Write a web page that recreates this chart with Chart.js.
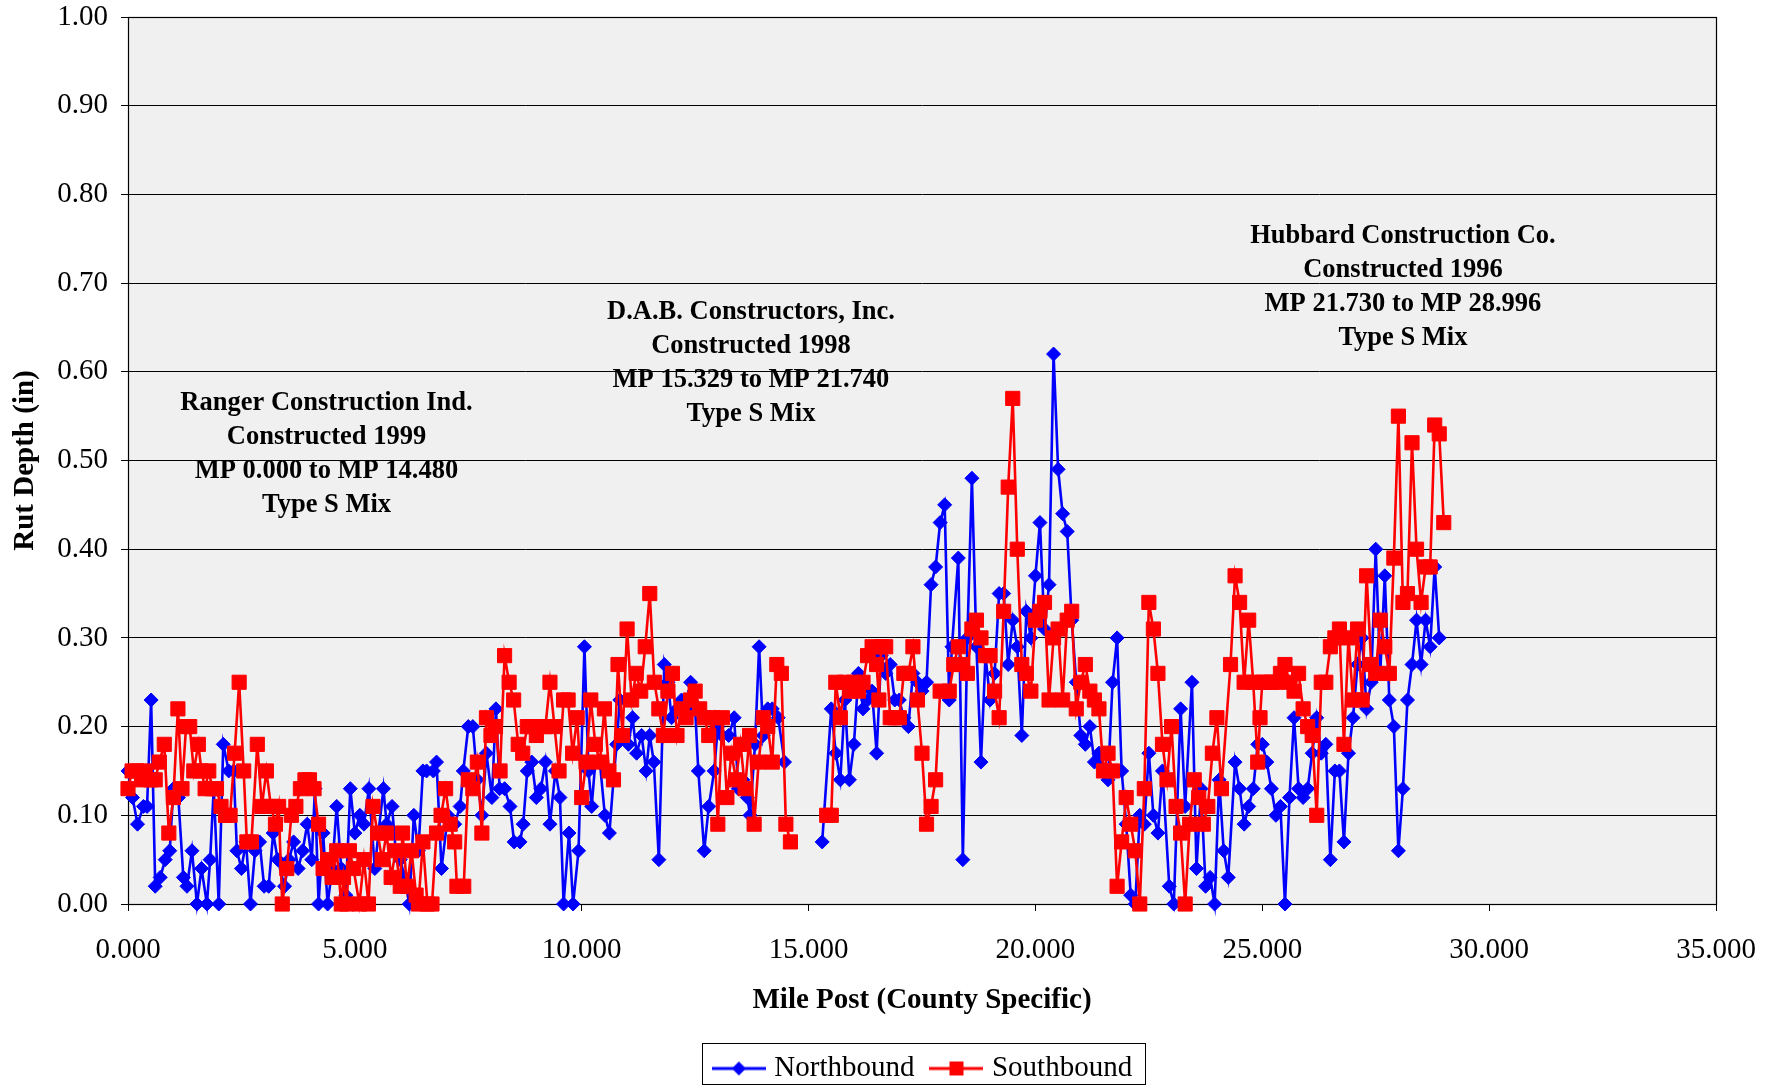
<!DOCTYPE html>
<html><head><meta charset="utf-8">
<script src="https://cdn.jsdelivr.net/npm/chart.js@4/dist/chart.umd.min.js"></script>
<style>html,body{margin:0;padding:0;background:#fff;}</style>
</head><body>
<canvas id="c" width="1778" height="1086"></canvas>
<script>
// ---------- DATA ----------
const nbMiles = [0.00,0.10,0.21,0.34,0.42,0.51,0.60,0.71,0.82,0.92,1.00,1.11,1.22,1.30,1.41,1.52,1.62,1.74,1.81,1.89,2.00,2.10,2.22,2.33,2.40,2.50,2.60,2.70,2.80,2.90,3.00,3.10,3.20,3.30,3.45,3.55,3.65,3.75,3.85,3.95,4.05,4.12,4.20,4.30,4.40,4.50,4.60,4.70,4.80,4.90,5.00,5.11,5.20,5.31,5.44,5.52,5.63,5.70,5.82,5.90,6.00,6.10,6.20,6.30,6.40,6.50,6.58,6.73,6.80,6.91,7.05,7.20,7.32,7.39,7.50,7.60,7.70,7.80,7.90,8.02,8.11,8.19,8.30,8.42,8.51,8.64,8.71,8.80,8.90,9.00,9.10,9.20,9.30,9.42,9.52,9.60,9.72,9.81,9.93,10.06,10.15,10.22,10.30,10.40,10.51,10.61,10.70,10.77,10.84,10.93,11.03,11.12,11.21,11.32,11.42,11.50,11.59,11.70,11.82,11.90,11.98,12.10,12.20,12.30,12.40,12.48,12.57,12.70,12.80,12.92,13.00,13.09,13.24,13.36,13.45,13.55,13.65,13.71,13.82,13.91,14.00,14.10,14.20,14.33,14.47,
14.90,
15.30,15.50,15.60,15.70,15.80,15.90,16.00,16.10,16.20,16.30,16.40,16.50,16.60,16.70,16.80,16.90,17.00,17.10,17.20,17.30,17.40,17.50,17.60,17.70,17.80,17.90,18.00,18.10,18.16,18.30,18.40,18.50,18.60,18.70,18.80,18.90,19.00,19.10,19.20,19.30,19.40,19.50,19.60,19.70,19.80,19.90,20.00,20.10,20.20,20.30,20.40,20.50,20.60,20.70,20.80,20.90,21.00,21.10,21.20,21.30,21.40,21.50,21.60,21.70,21.80,21.90,22.00,22.10,22.20,22.30,22.40,22.50,22.60,22.70,22.80,22.95,23.05,23.20,23.30,23.45,23.55,23.65,23.75,23.85,23.95,24.05,24.15,24.25,24.40,24.50,24.60,24.70,24.80,24.90,25.00,25.10,25.20,25.30,25.40,25.50,25.60,25.70,25.80,25.90,26.00,26.10,26.20,26.30,26.40,26.50,26.60,26.70,26.80,26.90,27.00,27.10,27.20,27.30,27.40,27.50,27.60,27.70,27.80,27.90,28.00,28.10,28.20,28.30,28.40,28.50,28.60,28.70,28.80,28.90];
const nbValues = [0.15,0.12,0.09,0.11,0.11,0.23,0.02,0.03,0.05,0.06,0.13,0.12,0.03,0.02,0.06,0.00,0.04,0.00,0.05,0.13,0.00,0.18,0.15,0.15,0.06,0.04,0.07,0.00,0.06,0.07,0.02,0.02,0.08,0.05,0.02,0.05,0.07,0.04,0.06,0.09,0.05,0.13,0.00,0.08,0.00,0.04,0.11,0.04,0.01,0.13,0.08,0.10,0.09,0.13,0.04,0.08,0.13,0.09,0.11,0.06,0.05,0.03,0.00,0.10,0.06,0.15,0.15,0.15,0.16,0.04,0.10,0.09,0.11,0.15,0.20,0.20,0.14,0.10,0.17,0.12,0.22,0.13,0.13,0.11,0.07,0.07,0.09,0.15,0.16,0.12,0.13,0.16,0.09,0.15,0.12,0.00,0.08,0.00,0.06,0.29,0.15,0.11,0.16,0.16,0.10,0.08,0.14,0.18,0.23,0.19,0.18,0.21,0.17,0.19,0.15,0.19,0.16,0.05,0.27,0.25,0.21,0.22,0.23,0.22,0.25,0.24,0.15,0.06,0.11,0.15,0.20,0.19,0.19,0.21,0.13,0.14,0.12,0.10,0.18,0.29,0.19,0.22,0.22,0.21,0.16,
null,
0.07,0.22,0.17,0.14,0.23,0.14,0.18,0.26,0.22,0.23,0.24,0.17,0.28,0.26,0.27,0.23,0.23,0.21,0.20,0.26,0.25,0.24,0.25,0.36,0.38,0.43,0.45,0.23,0.29,0.39,0.05,0.30,0.48,0.29,0.16,0.28,0.23,0.26,0.35,0.35,0.27,0.32,0.29,0.19,0.33,0.30,0.37,0.43,0.31,0.36,0.62,0.49,0.44,0.42,0.32,0.25,0.19,0.18,0.20,0.16,0.17,0.15,0.14,0.25,0.30,0.15,0.09,0.01,0.00,0.10,0.09,0.17,0.10,0.08,0.15,0.02,0.00,0.22,0.11,0.25,0.04,0.13,0.02,0.03,0.00,0.14,0.06,0.03,0.16,0.13,0.09,0.11,0.13,0.18,0.18,0.16,0.13,0.10,0.11,0.00,0.12,0.21,0.13,0.12,0.13,0.17,0.21,0.17,0.18,0.05,0.15,0.15,0.07,0.17,0.21,0.27,0.30,0.22,0.25,0.40,0.26,0.37,0.23,0.20,0.06,0.13,0.23,0.27,0.32,0.27,0.32,0.29,0.38,0.30];

const sbMiles = [0.00,0.09,0.20,0.30,0.38,0.50,0.60,0.69,0.80,0.90,1.00,1.10,1.19,1.28,1.36,1.45,1.55,1.62,1.70,1.78,1.86,1.95,2.05,2.15,2.25,2.35,2.45,2.55,2.62,2.72,2.85,2.95,3.05,3.15,3.25,3.32,3.40,3.50,3.60,3.70,3.80,3.90,4.00,4.10,4.20,4.30,4.40,4.50,4.60,4.70,4.75,4.82,4.88,4.97,5.10,5.20,5.30,5.40,5.50,5.60,5.70,5.80,5.90,6.00,6.05,6.15,6.25,6.35,6.40,6.50,6.60,6.70,6.80,6.90,7.00,7.10,7.20,7.25,7.40,7.50,7.60,7.70,7.80,7.90,8.00,8.10,8.20,8.30,8.40,8.50,8.60,8.70,8.80,8.90,9.00,9.10,9.20,9.30,9.40,9.50,9.60,9.70,9.80,9.90,10.00,10.10,10.20,10.30,10.40,10.50,10.60,10.70,10.80,10.90,11.00,11.10,11.20,11.30,11.40,11.50,11.60,11.70,11.80,11.90,12.00,12.10,12.20,12.30,12.40,12.50,12.60,12.70,12.80,12.90,13.00,13.10,13.20,13.30,13.40,13.50,13.60,13.70,13.80,13.90,14.00,14.10,14.20,14.30,14.40,14.50,14.60,
15.00,
15.40,15.50,15.60,15.70,15.80,15.90,16.00,16.10,16.20,16.30,16.40,16.50,16.55,16.60,16.70,16.80,16.90,17.00,17.10,17.20,17.30,17.40,17.50,17.60,17.70,17.80,17.90,18.10,18.20,18.30,18.40,18.50,18.60,18.70,18.80,18.90,19.00,19.10,19.20,19.30,19.40,19.50,19.60,19.70,19.80,19.90,20.00,20.10,20.20,20.30,20.40,20.50,20.60,20.70,20.80,20.90,21.00,21.10,21.20,21.30,21.40,21.50,21.60,21.70,21.80,21.90,22.00,22.10,22.20,22.30,22.40,22.50,22.60,22.70,22.80,22.90,23.00,23.10,23.20,23.30,23.40,23.50,23.60,23.70,23.80,23.90,24.00,24.10,24.30,24.40,24.50,24.60,24.70,24.80,24.90,24.95,25.00,25.10,25.20,25.30,25.40,25.50,25.60,25.70,25.80,25.90,26.00,26.10,26.20,26.30,26.40,26.50,26.60,26.70,26.80,26.90,27.00,27.10,27.20,27.30,27.40,27.50,27.60,27.70,27.80,27.90,28.00,28.10,28.20,28.30,28.40,28.50,28.60,28.70,28.80,28.90,29.00];
const sbValues = [0.13,0.15,0.15,0.14,0.15,0.14,0.14,0.16,0.18,0.08,0.12,0.22,0.13,0.20,0.20,0.15,0.18,0.15,0.13,0.15,0.13,0.13,0.11,0.10,0.10,0.17,0.25,0.15,0.07,0.07,0.18,0.11,0.15,0.11,0.09,0.11,0.00,0.04,0.10,0.11,0.13,0.14,0.14,0.13,0.09,0.04,0.05,0.03,0.06,0.00,0.03,0.00,0.06,0.04,0.00,0.05,0.00,0.11,0.08,0.05,0.08,0.03,0.06,0.02,0.08,0.02,0.06,0.01,0.00,0.07,0.00,0.00,0.08,0.10,0.13,0.09,0.07,0.02,0.02,0.14,0.13,0.16,0.08,0.21,0.19,0.20,0.15,0.28,0.25,0.23,0.18,0.17,0.20,0.20,0.19,0.20,0.20,0.25,0.20,0.15,0.23,0.23,0.17,0.21,0.12,0.16,0.23,0.18,0.16,0.22,0.15,0.14,0.27,0.19,0.31,0.23,0.26,0.24,0.29,0.35,0.25,0.22,0.19,0.24,0.26,0.19,0.22,0.21,0.23,0.24,0.22,0.21,0.19,0.21,0.09,0.21,0.12,0.17,0.14,0.18,0.13,0.19,0.09,0.16,0.21,0.20,0.16,0.27,0.26,0.09,0.07,
null,
0.10,0.10,0.25,0.21,0.25,0.24,0.25,0.24,0.25,0.28,0.29,0.27,0.23,0.29,0.29,0.21,0.21,0.21,0.26,0.26,0.29,0.23,0.17,0.09,0.11,0.14,0.24,0.24,0.27,0.29,0.27,0.26,0.31,0.32,0.30,0.28,0.28,0.24,0.21,0.33,0.47,0.57,0.40,0.27,0.26,0.24,0.32,0.33,0.34,0.23,0.30,0.31,0.23,0.32,0.33,0.22,0.25,0.27,0.24,0.23,0.22,0.15,0.17,0.15,0.02,0.07,0.12,0.09,0.06,0.00,0.13,0.34,0.31,0.26,0.18,0.14,0.20,0.11,0.08,0.00,0.09,0.14,0.12,0.09,0.11,0.17,0.21,0.13,0.27,0.37,0.34,0.25,0.32,0.25,0.16,0.21,0.25,0.25,0.25,0.25,0.26,0.27,0.25,0.24,0.26,0.22,0.20,0.19,0.10,0.25,0.25,0.29,0.30,0.31,0.18,0.30,0.23,0.31,0.23,0.37,0.27,0.26,0.32,0.29,0.26,0.39,0.55,0.34,0.35,0.52,0.40,0.34,0.38,0.38,0.54,0.53,0.43];

const seriesNames = ['Northbound', 'Southbound'];
const xTickValues = [0, 5, 10, 15, 20, 25, 30, 35];
const yTickValues = [0, 0.1, 0.2, 0.3, 0.4, 0.5, 0.6, 0.7, 0.8, 0.9, 1.0];
const xTitle = 'Mile Post (County Specific)';
const yTitle = 'Rut Depth (in)';
const noteTexts = [
  ['Ranger Construction Ind.', 'Constructed 1999', 'MP 0.000 to MP 14.480', 'Type S Mix'],
  ['D.A.B. Constructors, Inc.', 'Constructed 1998', 'MP 15.329 to MP 21.740', 'Type S Mix'],
  ['Hubbard Construction Co.', 'Constructed 1996', 'MP 21.730 to MP 28.996', 'Type S Mix']
];
const noteMiles = [4.375, 13.73, 28.1];
const noteValues = [0.565, 0.6676, 0.753];

// ---------- STYLE ----------
const FONT = '"Liberation Serif", "Times New Roman", serif';
const BLUE = '#0000FF', RED = '#FF0000';

function toPoints(miles, vals) { return miles.map((m, i) => ({x: m, y: vals[i]})); }

function legendSample(color, style) {
  const cv = document.createElement('canvas');
  cv.width = 54; cv.height = 22;
  const g = cv.getContext('2d');
  g.strokeStyle = color; g.lineWidth = 3;
  g.beginPath(); g.moveTo(0, 11); g.lineTo(54, 11); g.stroke();
  g.fillStyle = color;
  if (style === 'diamond') {
    g.beginPath(); g.moveTo(27, 4); g.lineTo(34, 11); g.lineTo(27, 18); g.lineTo(20, 11); g.closePath(); g.fill();
  } else {
    g.fillRect(20, 4, 14, 14);
  }
  return cv;
}
const samples = [legendSample(BLUE, 'diamond'), legendSample(RED, 'square')];

const plotBg = {
  id: 'plotBg',
  beforeDraw(chart) {
    const {ctx, chartArea: a} = chart;
    ctx.save(); ctx.fillStyle = '#F0F0F0';
    ctx.fillRect(a.left, a.top, a.right - a.left, a.bottom - a.top);
    ctx.restore();
  },
  beforeDatasetsDraw(chart) {
    const {ctx, chartArea: a} = chart;
    ctx.save(); ctx.strokeStyle = '#000'; ctx.lineWidth = 1.2;
    ctx.strokeRect(Math.round(a.left) + 0.5, Math.round(a.top) + 0.5, Math.round(a.right - a.left), Math.round(a.bottom - a.top));
    ctx.restore();
  }
};

const notes = {
  id: 'notes',
  afterDatasetsDraw(chart) {
    const {ctx, scales: {x, y}} = chart;
    ctx.save();
    ctx.font = 'bold 26.5px ' + FONT;
    ctx.fillStyle = '#000'; ctx.textAlign = 'center'; ctx.textBaseline = 'middle';
    noteTexts.forEach((lines, k) => {
      const cx = x.getPixelForValue(noteMiles[k]);
      const cy = y.getPixelForValue(noteValues[k]);
      lines.forEach((t, j) => ctx.fillText(t, cx, cy + j * 34));
    });
    ctx.restore();
  }
};

const legendShift = {
  id: 'legendShift',
  afterLayout(chart) {
    const l = chart.legend; if (!l) return;
    l.left += 67; l.right += 67; l.top += 7; l.bottom += 7;
  },
  afterDraw(chart) {
    const l = chart.legend; if (!l || !l.legendHitBoxes.length) return;
    const hb = l.legendHitBoxes;
    const x0 = Math.min(...hb.map(b => b.left)) - 16;
    const x1 = Math.max(...hb.map(b => b.left + b.width)) + 13;
    const ctx = chart.ctx;
    ctx.save(); ctx.strokeStyle = '#000'; ctx.lineWidth = 1;
    ctx.strokeRect(Math.round(x0) + 0.5, 1043.5, Math.round(x1 - x0), 41);
    ctx.restore();
  }
};

new Chart(document.getElementById('c'), {
  type: 'line',
  data: {
    datasets: [
      { label: seriesNames[0], data: toPoints(nbMiles, nbValues), borderColor: BLUE, backgroundColor: BLUE,
        borderWidth: 2.6, pointStyle: 'rectRot', pointRadius: 7, pointHoverRadius: 7, pointBorderWidth: 1,
        pointBackgroundColor: BLUE, pointBorderColor: BLUE, tension: 0, spanGaps: false, clip: false, order: 1 },
      { label: seriesNames[1], data: toPoints(sbMiles, sbValues), borderColor: RED, backgroundColor: RED,
        borderWidth: 2.6, pointStyle: 'rect', pointRadius: 10, pointHoverRadius: 10, pointBorderWidth: 1,
        pointBackgroundColor: RED, pointBorderColor: RED, tension: 0, spanGaps: false, clip: false, order: 0 }
    ]
  },
  options: {
    responsive: false, animation: false, devicePixelRatio: 1,
    layout: { padding: { left: 0, right: 62, top: 17, bottom: 0 } },
    scales: {
      x: {
        type: 'linear', min: 0, max: 35,
        afterBuildTicks(s) { s.ticks = xTickValues.map(v => ({value: v})); },
        afterFit(s) { s.height = 122; s.paddingLeft = 0; s.paddingRight = 0; },
        ticks: { callback: v => Number(v).toFixed(3), color: '#000', font: {family: FONT, size: 29}, padding: 22, maxRotation: 0, autoSkip: false },
        grid: { drawOnChartArea: false, drawTicks: true, tickLength: 7, color: '#000' },
        border: { display: true, color: '#000' },
        title: { display: true, text: xTitle, color: '#000', font: {family: FONT, size: 29, weight: 'bold'}, padding: {top: 0, bottom: 8} }
      },
      y: {
        type: 'linear', min: 0, max: 1,
        afterBuildTicks(s) { s.ticks = yTickValues.map(v => ({value: v})); },
        afterFit(s) { s.width = 128; s.paddingTop = 0; s.paddingBottom = 0; },
        ticks: { callback: v => Number(v).toFixed(2), color: '#000', font: {family: FONT, size: 29}, padding: 13, autoSkip: false },
        grid: { color: '#000', lineWidth: 1, drawTicks: true, tickLength: 7 },
        border: { display: true, color: '#000' },
        title: { display: true, text: yTitle, color: '#000', font: {family: FONT, size: 29, weight: 'bold'}, padding: {top: 8, bottom: 0} }
      }
    },
    plugins: {
      tooltip: { enabled: false },
      legend: {
        position: 'bottom',
        labels: {
          usePointStyle: true, pointStyleWidth: 42, boxHeight: 22, padding: 21,
          color: '#000', font: {family: FONT, size: 29},
          sort: (a, b) => a.datasetIndex - b.datasetIndex,
          generateLabels(chart) {
            return chart.data.datasets.map((d, i) => ({
              text: d.label, pointStyle: samples[i], datasetIndex: i, hidden: false,
              fillStyle: d.borderColor, strokeStyle: d.borderColor, lineWidth: 0, fontColor: '#000'
            }));
          }
        }
      }
    }
  },
  plugins: [plotBg, notes, legendShift]
});
</script>
</body></html>
